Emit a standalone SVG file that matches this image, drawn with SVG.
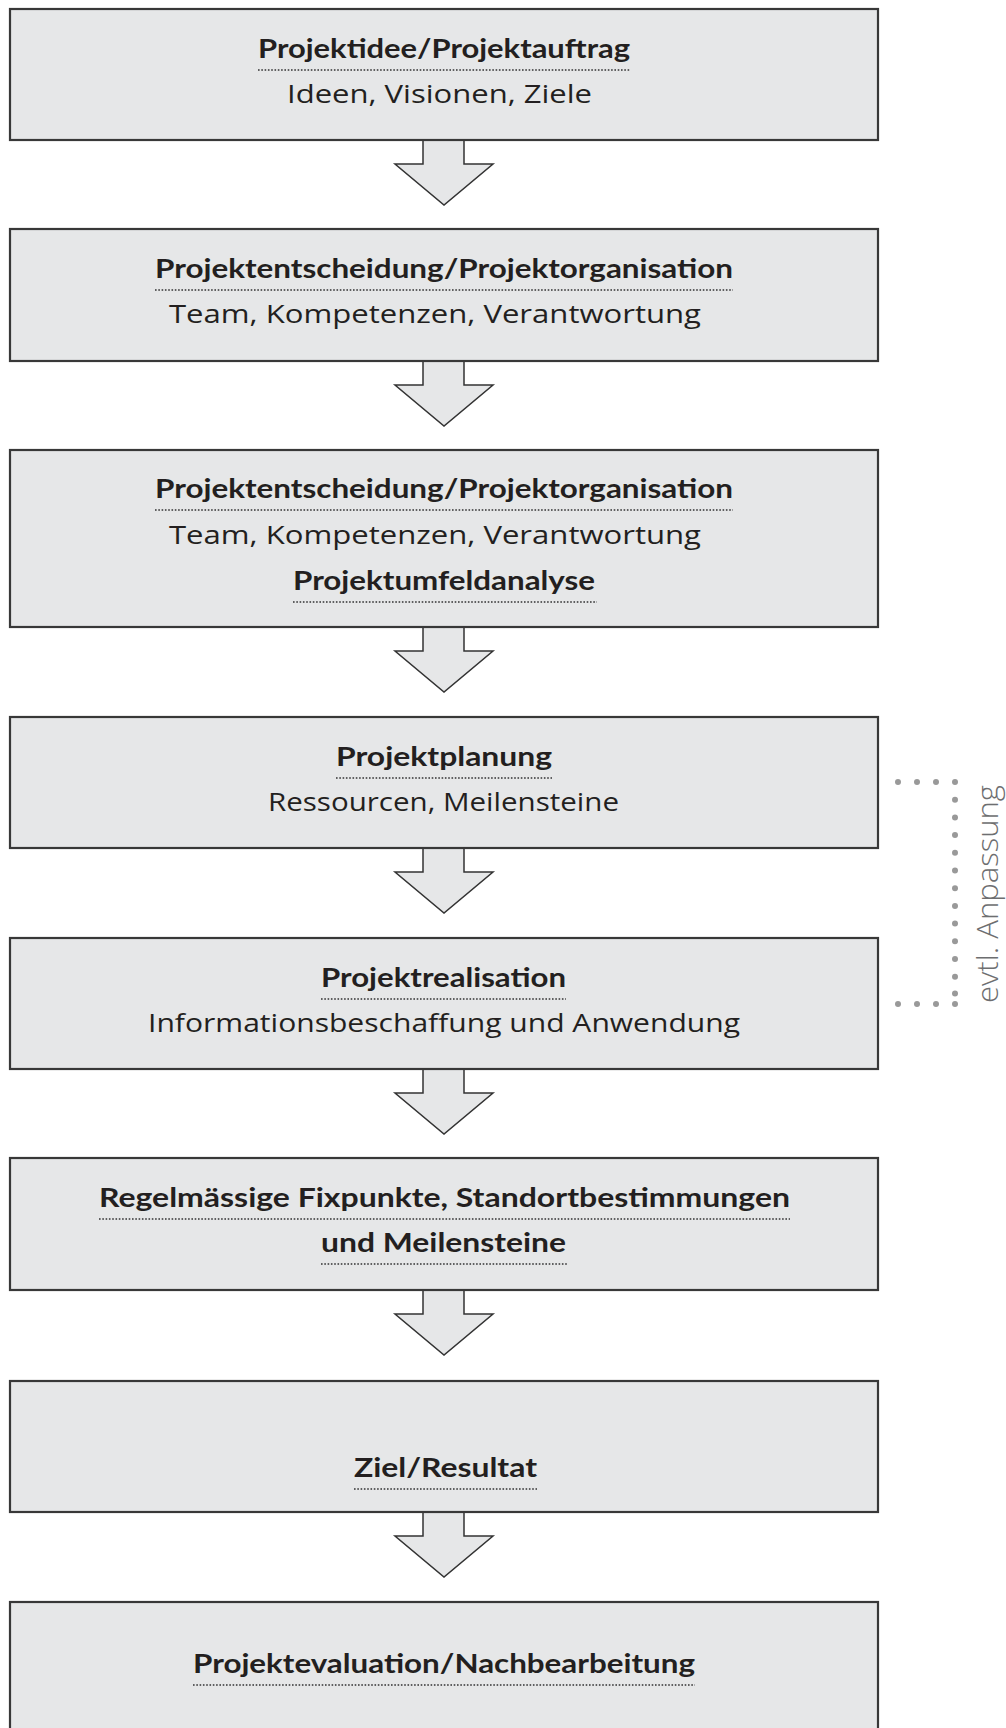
<svg xmlns="http://www.w3.org/2000/svg" width="1006" height="1728" viewBox="0 0 1006 1728">
<style>
.box{fill:#e6e7e8;stroke:#383838;stroke-width:2.2}
.arr{fill:#e6e7e8;stroke:#333;stroke-width:1.5;stroke-linejoin:miter}
.t{font-family:Lato,"Open Sans","Liberation Sans",sans-serif;font-weight:700;font-size:27px;fill:#231f20;text-anchor:middle}
.s{font-family:"Open Sans",Lato,"Liberation Sans",sans-serif;font-weight:400;font-size:25px;fill:#231f20;text-anchor:middle}
.u{stroke:#333;stroke-width:1.6;stroke-dasharray:1.6 1.7;fill:none}
.d{fill:#999}
.side{font-family:"Open Sans",Lato,"Liberation Sans",sans-serif;font-weight:300;font-size:30px;fill:#6d6e70}
</style>
<rect width="1006" height="1728" fill="#fff"/>
<g id="connectors">
<path class="arr" d="M423,141 V164 H395 L444,205 L493,164 H464 V141"/>
<path class="arr" d="M423,362 V385 H395 L444,426 L493,385 H464 V362"/>
<path class="arr" d="M423,628 V651 H395 L444,692 L493,651 H464 V628"/>
<path class="arr" d="M423,849 V872 H395 L444,913 L493,872 H464 V849"/>
<path class="arr" d="M423,1070 V1093 H395 L444,1134 L493,1093 H464 V1070"/>
<path class="arr" d="M423,1291 V1314 H395 L444,1355 L493,1314 H464 V1291"/>
<path class="arr" d="M423,1513 V1536 H395 L444,1577 L493,1536 H464 V1513"/>
</g>
<g id="node1">
<rect class="box" x="10" y="9" width="868" height="131"/>
<text class="t" x="444" y="58" textLength="372" lengthAdjust="spacingAndGlyphs">Projektidee/Projektauftrag</text>
<line class="u" x1="258" y1="70" x2="630" y2="70"/>
<text class="s" x="439.5" y="103" textLength="305" lengthAdjust="spacingAndGlyphs">Ideen, Visionen, Ziele</text>
</g>
<g id="node2">
<rect class="box" x="10" y="229" width="868" height="132"/>
<text class="t" x="444" y="278" textLength="578" lengthAdjust="spacingAndGlyphs">Projektentscheidung/Projektorganisation</text>
<line class="u" x1="155" y1="290" x2="733" y2="290"/>
<text class="s" x="435" y="323" textLength="532" lengthAdjust="spacingAndGlyphs">Team, Kompetenzen, Verantwortung</text>
</g>
<g id="node3">
<rect class="box" x="10" y="450" width="868" height="177"/>
<text class="t" x="444" y="498" textLength="578" lengthAdjust="spacingAndGlyphs">Projektentscheidung/Projektorganisation</text>
<line class="u" x1="155" y1="510" x2="733" y2="510"/>
<text class="s" x="435" y="544" textLength="532" lengthAdjust="spacingAndGlyphs">Team, Kompetenzen, Verantwortung</text>
<text class="t" x="444" y="590" textLength="302" lengthAdjust="spacingAndGlyphs">Projektumfeldanalyse</text>
<line class="u" x1="293" y1="602" x2="597" y2="602"/>
</g>
<g id="node4">
<rect class="box" x="10" y="717" width="868" height="131"/>
<text class="t" x="444" y="766" textLength="216" lengthAdjust="spacingAndGlyphs">Projektplanung</text>
<line class="u" x1="336" y1="778" x2="552" y2="778"/>
<text class="s" x="443.5" y="811" textLength="351" lengthAdjust="spacingAndGlyphs">Ressourcen, Meilensteine</text>
</g>
<g id="node5">
<rect class="box" x="10" y="938" width="868" height="131"/>
<text class="t" x="443.5" y="987" textLength="245" lengthAdjust="spacingAndGlyphs">Projektrealisation</text>
<line class="u" x1="321" y1="999" x2="566" y2="999"/>
<text class="s" x="444" y="1032" textLength="592" lengthAdjust="spacingAndGlyphs">Informationsbeschaffung und Anwendung</text>
</g>
<g id="node6">
<rect class="box" x="10" y="1158" width="868" height="132"/>
<text class="t" x="444.5" y="1207" textLength="691" lengthAdjust="spacingAndGlyphs">Regelmässige Fixpunkte, Standortbestimmungen</text>
<line class="u" x1="99" y1="1219" x2="790" y2="1219"/>
<text class="t" x="443.5" y="1252" textLength="245" lengthAdjust="spacingAndGlyphs">und Meilensteine</text>
<line class="u" x1="321" y1="1264" x2="568" y2="1264"/>
</g>
<g id="node7">
<rect class="box" x="10" y="1381" width="868" height="131"/>
<text class="t" x="445.5" y="1477" textLength="183" lengthAdjust="spacingAndGlyphs">Ziel/Resultat</text>
<line class="u" x1="354" y1="1489" x2="537" y2="1489"/>
</g>
<g id="node8">
<rect class="box" x="10" y="1602" width="868" height="200"/>
<text class="t" x="444" y="1673" textLength="502" lengthAdjust="spacingAndGlyphs">Projektevaluation/Nachbearbeitung</text>
<line class="u" x1="193" y1="1685" x2="695" y2="1685"/>
</g>
<g id="feedback">
<circle class="d" cx="898" cy="782" r="3"/>
<circle class="d" cx="917" cy="782" r="3"/>
<circle class="d" cx="936" cy="782" r="3"/>
<circle class="d" cx="955" cy="782" r="3"/>
<circle class="d" cx="955" cy="799.7" r="3"/>
<circle class="d" cx="955" cy="817.4" r="3"/>
<circle class="d" cx="955" cy="835.1" r="3"/>
<circle class="d" cx="955" cy="852.8" r="3"/>
<circle class="d" cx="955" cy="870.5" r="3"/>
<circle class="d" cx="955" cy="888.2" r="3"/>
<circle class="d" cx="955" cy="905.9" r="3"/>
<circle class="d" cx="955" cy="923.6" r="3"/>
<circle class="d" cx="955" cy="941.3" r="3"/>
<circle class="d" cx="955" cy="959" r="3"/>
<circle class="d" cx="955" cy="976.7" r="3"/>
<circle class="d" cx="955" cy="993.5" r="3"/>
<circle class="d" cx="955" cy="1004" r="3"/>
<circle class="d" cx="936" cy="1004" r="3"/>
<circle class="d" cx="917" cy="1004" r="3"/>
<circle class="d" cx="898" cy="1004" r="3"/>
<text class="side" transform="translate(998,1003) rotate(-90)" x="0" y="0" textLength="218" lengthAdjust="spacingAndGlyphs">evtl. Anpassung</text>
</g>
</svg>
